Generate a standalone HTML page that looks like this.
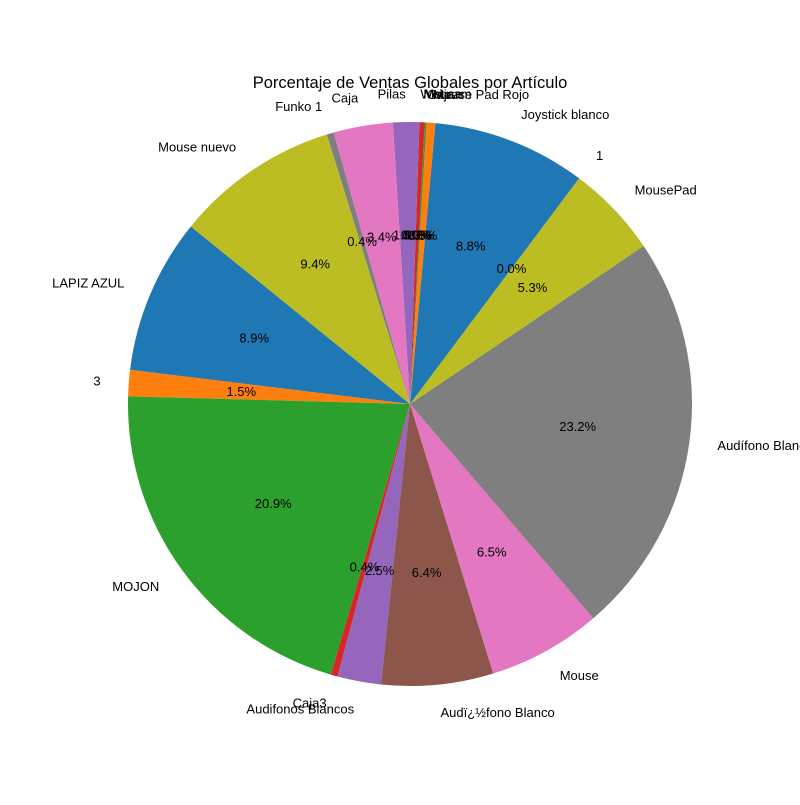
<!DOCTYPE html>
<html><head><meta charset="utf-8"><style>
body{margin:0;background:#fff}
svg text{font-family:"Liberation Sans","DejaVu Sans",sans-serif}
</style></head><body>
<svg id="chart" width="800" height="800" viewBox="0 0 800 800" xmlns="http://www.w3.org/2000/svg">
<rect width="800" height="800" fill="#fff"/>
<text x="410" y="88" text-anchor="middle" font-size="16.5" fill="#000">Porcentaje de Ventas Globales por Artículo</text>
<g id="slices"></g>
<g id="labels"></g>
</svg>
<script>
const categories = ["LAPIZ AZUL","3","MOJON","Caja3","Audifonos Blancos","Audï¿½fono Blanco","Mouse","Audífono Blanco","MousePad","1","Joystick blanco","Mouse Pad Rojo","Caja","Mouse","Webcam","Pilas","Caja","Funko 1","Mouse nuevo"];
const values = [8.9,1.5,20.9,0.4,2.5,6.4,6.5,23.2,5.3,0.0,8.8,0.5,0.1,0.3,0.0,1.5,3.4,0.4,9.4];
const sliceColors = ["#1f77b4","#ff7f0e","#2ca02c","#d62728","#9467bd","#8c564b","#e377c2","#7f7f7f","#bcbd22","#17becf","#1f77b4","#ff7f0e","#2ca02c","#d62728","#8c564b","#9467bd","#e377c2","#7f7f7f","#bcbd22"];
const startAngle = 141.0;
const cx = 410, cy = 404, R = 282;
const NS = "http://www.w3.org/2000/svg";
const total = values.reduce((a,b)=>a+b,0);
const gS = document.getElementById('slices'), gL = document.getElementById('labels');
function pt(deg, r){const a=deg*Math.PI/180;return [cx+r*Math.cos(a), cy-r*Math.sin(a)];}
let ang = startAngle;
values.forEach((v,i)=>{
  const span = v/total*360;
  const a0 = ang, a1 = ang+span;
  if (span > 0) {
    const p0 = pt(a0,R), p1 = pt(a1,R);
    const large = span>180?1:0;
    const path = document.createElementNS(NS,'path');
    path.setAttribute('d',`M${cx},${cy} L${p0[0]},${p0[1]} A${R},${R} 0 ${large} 0 ${p1[0]},${p1[1]} Z`);
    path.setAttribute('fill',sliceColors[i%sliceColors.length]);
    
    
    gS.appendChild(path);
  }
  const mid = (a0+a1)/2;
  const lp = pt(mid, R*1.1);
  const t = document.createElementNS(NS,'text');
  t.setAttribute('x',lp[0]); t.setAttribute('y',lp[1]+4.5);
  t.setAttribute('font-size','13');
  t.setAttribute('text-anchor', Math.cos(mid*Math.PI/180) >= 0 ? 'start' : 'end');
  t.textContent = categories[i];
  
  
  gL.appendChild(t);
  const pp = pt(mid, R*0.6);
  const p = document.createElementNS(NS,'text');
  p.setAttribute('x',pp[0]); p.setAttribute('y',pp[1]+4.5);
  p.setAttribute('font-size','13');
  p.setAttribute('text-anchor','middle');
  p.textContent = (v/total*100).toFixed(1)+'%';
  
  
  gL.appendChild(p);
  ang = a1;
});
</script>
</body></html>
